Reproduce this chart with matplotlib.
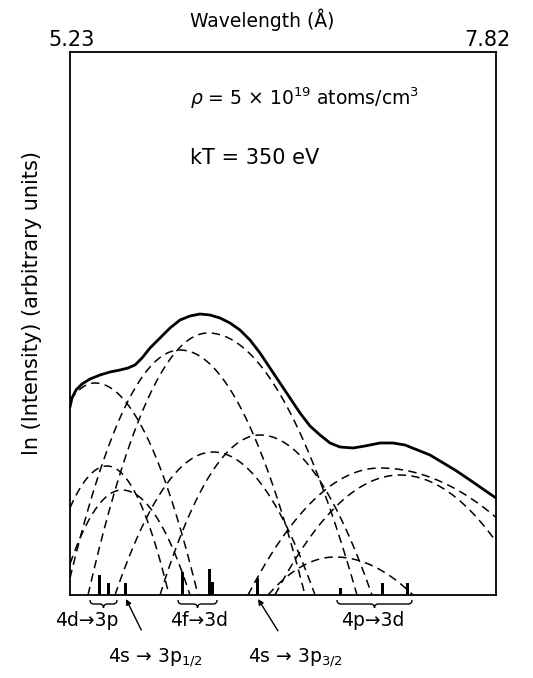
import numpy as np
import matplotlib
matplotlib.use('Agg')
import matplotlib.pyplot as plt
from matplotlib.path import Path
from matplotlib.patches import PathPatch

plt.rcParams['font.family'] = ['DejaVu Sans']
plt.rcParams['mathtext.fontset'] = 'dejavusans'

# === Data (arbitrary units: x across the window, y = ln intensity above the cut-off) ===
# total spectrum (solid)
total_x = [70, 72, 76, 82, 90, 100, 110, 120, 128, 135, 142, 150, 160, 170,
           180, 190, 200, 210, 220, 230, 240, 250, 260, 270, 280, 290, 300,
           310, 320, 330, 340, 353, 365, 380, 393, 405, 415, 430, 440, 455,
           467, 480, 496]
total_y = [188, 197, 205, 211, 216, 220, 223, 225, 227, 230, 237, 247, 257,
           267, 275, 279, 281, 280, 277, 272, 265, 255, 242, 227, 212, 197,
           182, 169, 160, 152, 148, 147, 149, 152, 152, 150, 146, 140, 134,
           125, 117, 108, 97]

# dashed components: left foot, peak position, peak height, right foot
comp_left = [7, 88, 66, 160, 115, 42, 60, 248, 275, 268]
comp_peak_x = [95, 208, 180, 260, 213, 107, 122, 380, 400, 335]
comp_peak_y = [212, 262, 245, 160, 143, 129, 105, 127, 120, 38]
comp_right = [198, 357, 305, 372, 315, 169, 190, 566, 529, 413]

# line positions and strengths
line_x = [99, 108, 125, 182, 209, 212, 257, 340, 382, 407]
line_h = [20, 12, 12, 23, 26, 13, 17, 7, 12, 12]

groups = ['4d→3p', '4f→3d', '4p→3d']
group_x0 = [90, 178, 337]
group_x1 = [117, 217, 412]

x_min, x_max = 70, 496
y_max = 543

fig = plt.figure(figsize=(5.33, 6.78), dpi=100)
ax = fig.add_axes([70 / 533, 1 - 595 / 678, 426 / 533, 543 / 678])
ax.set_xlim(x_min, x_max)
ax.set_ylim(0, y_max)
ax.set_xticks([])
ax.set_yticks([])
for s in ax.spines.values():
    s.set_linewidth(1.3)

# === components ===
for l, cx, h, r in zip(comp_left, comp_peak_x, comp_peak_y, comp_right):
    xs = np.linspace(max(l, x_min), min(r, x_max), 200)
    w = np.where(xs < cx, cx - l, r - cx)
    ys = h * (1 - ((xs - cx) / w) ** 2)
    ax.plot(xs, ys, color='black', lw=1.1, dashes=(5.5, 3.5))

ax.plot(total_x, total_y, color='black', lw=2.0, solid_joinstyle='round',
        solid_capstyle='round')

ax.bar(line_x, line_h, width=3, color='black', align='center')


def brace(x0, x1, ytop=-5, ybot=-13):
    xm = (x0 + x1) / 2
    ymid = (ytop + ybot) / 2
    verts = [(x0, ytop), (x0, ymid), (x0 + 4, ymid),
             (xm - 4, ymid), (xm, ymid), (xm, ybot),
             (xm, ymid), (xm + 4, ymid),
             (x1 - 4, ymid), (x1, ymid), (x1, ytop)]
    codes = [Path.MOVETO, Path.CURVE3, Path.CURVE3,
             Path.LINETO, Path.CURVE3, Path.CURVE3,
             Path.CURVE3, Path.CURVE3,
             Path.LINETO, Path.CURVE3, Path.CURVE3]
    ax.add_patch(PathPatch(Path(verts, codes), fill=False, lw=1.0,
                           clip_on=False))


for g, a, b in zip(groups, group_x0, group_x1):
    brace(a, b)

label_fs = 13.5
ax.text(87, -25, '4d→3p', ha='center', va='center', fontsize=label_fs)
ax.text(199, -25, '4f→3d', ha='center', va='center', fontsize=label_fs)
ax.text(373, -25, '4p→3d', ha='center', va='center', fontsize=label_fs)

ax.annotate(r'4s → 3p$_{1/2}$', xy=(126, -4), xytext=(155, -63),
            ha='center', va='center', fontsize=label_fs, annotation_clip=False,
            arrowprops=dict(arrowstyle='-|>', color='black', lw=1.0,
                            shrinkA=11, shrinkB=0, mutation_scale=8))
ax.annotate(r'4s → 3p$_{3/2}$', xy=(258, -4), xytext=(295, -63),
            ha='center', va='center', fontsize=label_fs, annotation_clip=False,
            arrowprops=dict(arrowstyle='-|>', color='black', lw=1.0,
                            shrinkA=11, shrinkB=0, mutation_scale=8))

# === top axis / annotations ===
fig.text(262 / 533, 1 - 20 / 678, 'Wavelength (Å)', ha='center', va='center',
         fontsize=13.5)
fig.text(72 / 533, 1 - 40 / 678, '5.23', ha='center', va='center', fontsize=15)
fig.text(487 / 533, 1 - 40 / 678, '7.82', ha='center', va='center', fontsize=15)

fig.text(190 / 533, 1 - 98 / 678, r'$\rho$ = 5 × 10$^{19}$ atoms/cm$^3$',
         ha='left', va='center', fontsize=13.5)
fig.text(190 / 533, 1 - 158 / 678, 'kT = 350 eV', ha='left', va='center',
         fontsize=15)

fig.text(32 / 533, 1 - 303 / 678, 'ln (Intensity) (arbitrary units)',
         rotation=90, ha='center', va='center', fontsize=15)

plt.savefig('out.png', dpi=100)
plt.close()
